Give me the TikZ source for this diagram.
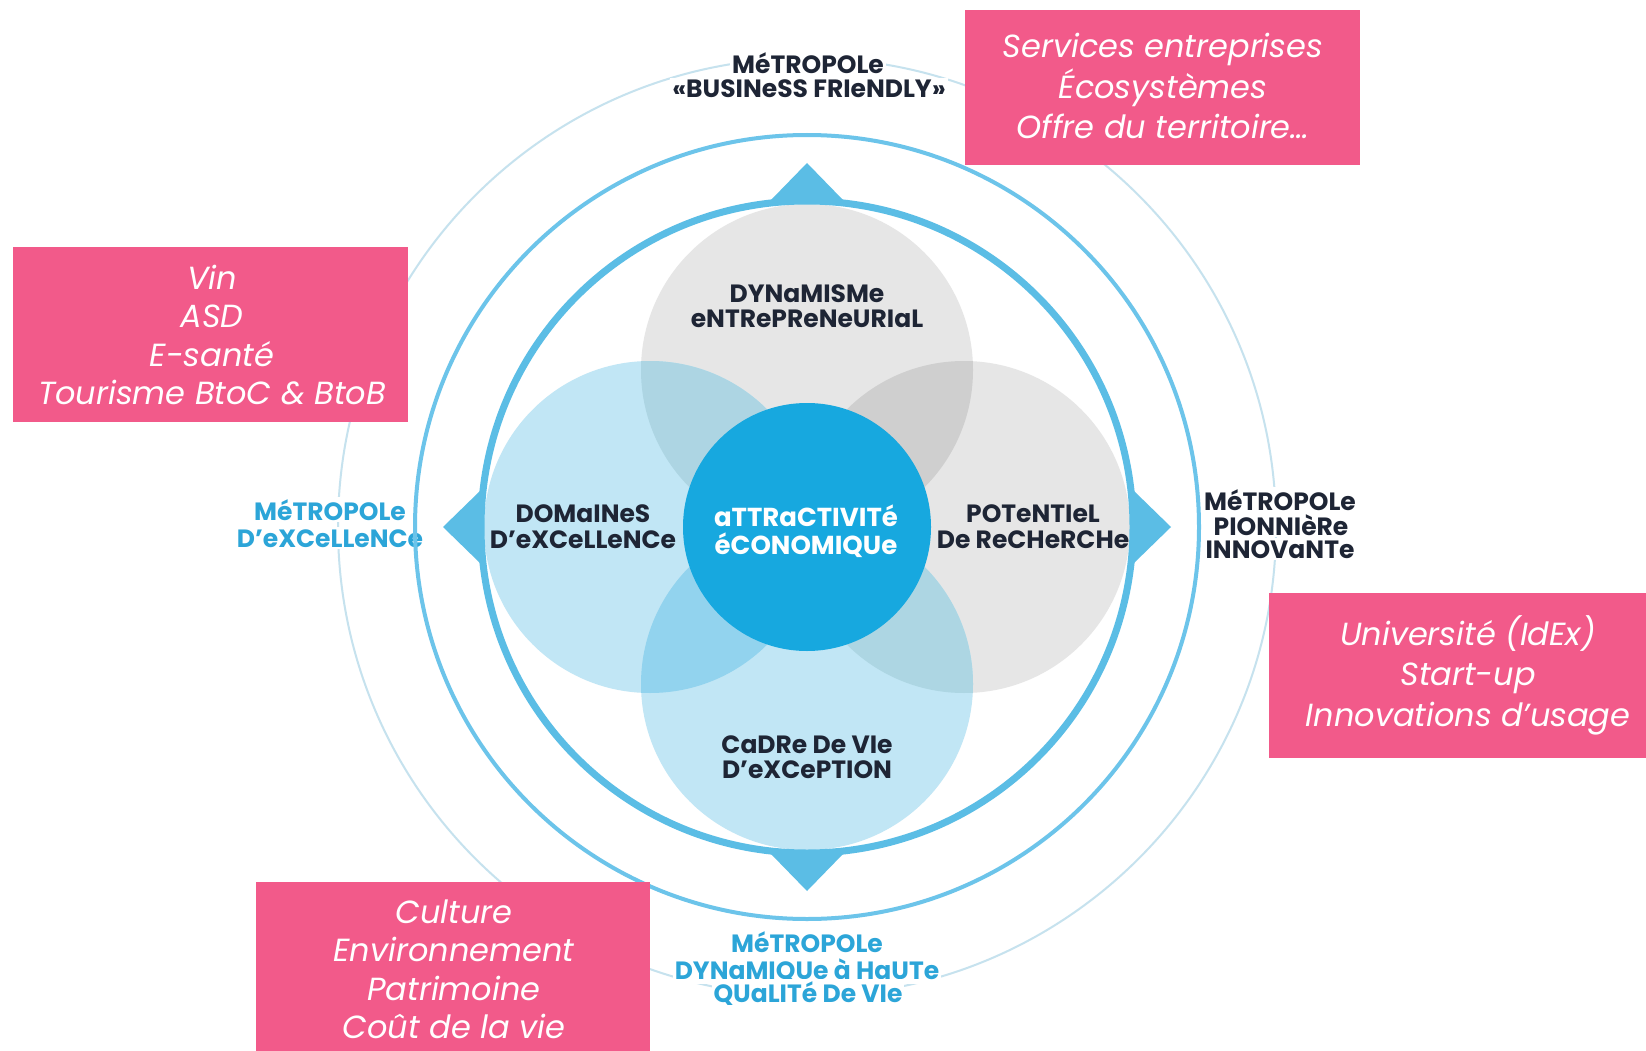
\documentclass[tikz,border=0pt]{standalone}
\usepackage{fontspec}
\setmainfont{Poppins}
\definecolor{ringc}{HTML}{5BBDE5}
\definecolor{midc}{HTML}{6CC4EA}
\definecolor{outc}{HTML}{C6E2EE}
\definecolor{grayp}{HTML}{E6E6E6}
\definecolor{bluep}{HTML}{C1E6F5}
\definecolor{ovTL}{HTML}{ADD5E3}
\definecolor{ovTR}{HTML}{CFCFCF}
\definecolor{ovBL}{HTML}{92D3EE}
\definecolor{ovBR}{HTML}{ADD6E3}
\definecolor{ctrc}{HTML}{17A8DF}
\definecolor{darktxt}{HTML}{1E2535}
\definecolor{bluetxt}{HTML}{2CA5D8}
\definecolor{pinkc}{HTML}{F25A8A}
\begin{document}
\begin{tikzpicture}[x=1pt,y=-1pt,
  lbl/.style={anchor=base,inner sep=0pt,text=darktxt,font=\fontsize{25}{25}\selectfont\bfseries},
  olbl/.style={lbl,fill=white,inner sep=2pt},
  olblb/.style={olbl,text=bluetxt},
  ctrlbl/.style={lbl,text=white,font=\fontsize{26}{26}\selectfont\bfseries},
  pk/.style={anchor=base,inner sep=0pt,text=white,font=\fontsize{32}{32}\selectfont\itshape},
  tri/.style={fill=ringc},
]
\useasboundingbox (0,0) rectangle (1646,1051);
\fill[white] (0,0) rectangle (1646,1051);
\coordinate (C) at (807,527);
\coordinate (pT) at (807,370);
\coordinate (pB) at (807,684);
\coordinate (pL) at (650,527);
\coordinate (pR) at (964,527);

% outer ring
\draw[outc,line width=2pt] (C) circle[radius=469pt];

% outer labels
\node[olbl] (tl1) at (808,74) {MéTROPOLe};
\node[olbl] (tl2) at (809,98) {«BUSINeSS FRIeNDLY»};
\node[olblb] (ll1) at (330,520) {MéTROPOLe};
\node[olblb] (ll2) at (330,547) {D’eXCeLLeNCe};
\node[olbl] (rl1) at (1280,510) {MéTROPOLe};
\node[olbl] (rl2) at (1281,535) {PIONNIèRe};
\node[olbl] (rl3) at (1280,558) {INNOVaNTe};
\node[olblb] (bl1) at (807,952) {MéTROPOLe};
\node[olblb] (bl2) at (807,979) {DYNaMIQUe à HaUTe};
\node[olblb] (bl3) at (808,1002) {QUaLITé De VIe};

% middle ring
\draw[midc,line width=4pt] (C) circle[radius=392pt];

% triangles
\fill[tri] (807,163) -- (771,200) -- (843,200) -- cycle;
\fill[tri] (807,891) -- (771,854) -- (843,854) -- cycle;
\fill[tri] (443,527) -- (480,491) -- (480,563) -- cycle;
\fill[tri] (1171,527) -- (1134,491) -- (1134,563) -- cycle;

% petals
\fill[grayp] (pT) circle[radius=166pt];
\fill[grayp] (pR) circle[radius=166pt];
\fill[bluep] (pL) circle[radius=166pt];
\fill[bluep] (pB) circle[radius=166pt];
\begin{scope}
  \clip (pT) circle[radius=166pt];
  \fill[ovTL] (pL) circle[radius=166pt];
  \fill[ovTR] (pR) circle[radius=166pt];
\end{scope}
\begin{scope}
  \clip (pB) circle[radius=166pt];
  \fill[ovBL] (pL) circle[radius=166pt];
  \fill[ovBR] (pR) circle[radius=166pt];
\end{scope}

% inner ring
\draw[ringc,line width=7pt] (C) circle[radius=326pt];

% center
\fill[ctrc] (C) circle[radius=124pt];

% inner labels
\node[lbl] (t1) at (807,302) {DYNaMISMe};
\node[lbl] (t2) at (807,327) {eNTRePReNeURIaL};
\node[lbl] (d1) at (583,522) {DOMaINeS};
\node[lbl] (d2) at (583,548) {D’eXCeLLeNCe};
\node[lbl] (r1) at (1033,522) {POTeNTIeL};
\node[lbl] (r2) at (1033,548) {De ReCHeRCHe};
\node[lbl] (b1) at (807,753) {CaDRe De VIe};
\node[lbl] (b2) at (807,778) {D’eXCePTION};
\node[ctrlbl] (c1) at (806,526) {aTTRaCTIVITé};
\node[ctrlbl] (c2) at (806,554) {éCONOMIQUe};

% pink boxes
\fill[pinkc] (965,10) rectangle (1360,165);
\node[pk] (a1) at (1163,58) {Services entreprises};
\node[pk] (a2) at (1163,99) {Écosystèmes};
\node[pk] (a3) at (1163,139) {Offre du territoire…};

\fill[pinkc] (13,247) rectangle (408,422);
\node[pk] (v1) at (212,289) {Vin};
\node[pk] (v2) at (212,327) {ASD};
\node[pk] (v3) at (212,366) {E-santé};
\node[pk] (v4) at (212,404) {Tourisme BtoC \& BtoB};

\fill[pinkc] (1269,593) rectangle (1646,758);
\node[pk] (u1) at (1468,645) {Université (IdEx)};
\node[pk] (u2) at (1468,685) {Start-up};
\node[pk] (u3) at (1468,726) {Innovations d’usage};

\fill[pinkc] (256,882) rectangle (650,1051);
\node[pk] (k1) at (454,923) {Culture};
\node[pk] (k2) at (454,961) {Environnement};
\node[pk] (k3) at (454,1000) {Patrimoine};
\node[pk] (k4) at (454,1038) {Coût de la vie};
\end{tikzpicture}
\end{document}
